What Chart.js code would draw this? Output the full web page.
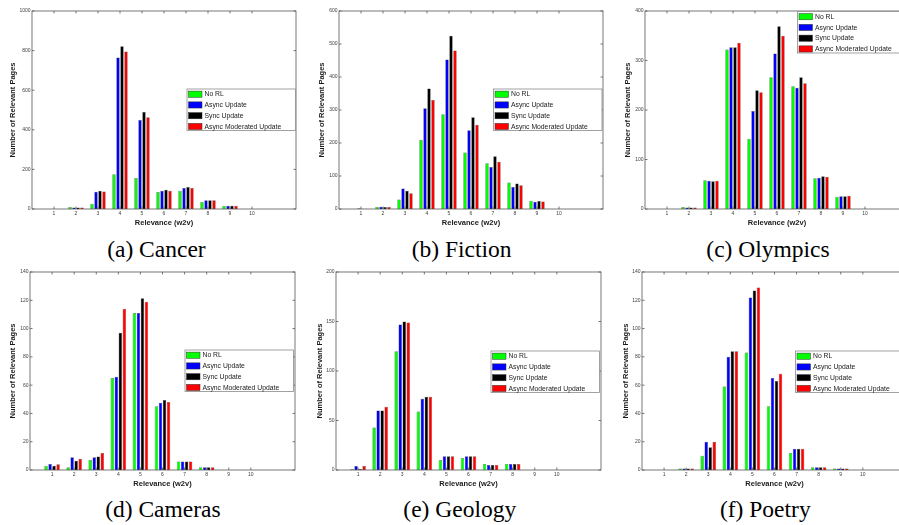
<!DOCTYPE html>
<html>
<head>
<meta charset="utf-8">
<script src="https://cdn.jsdelivr.net/npm/chart.js@4.4.1/dist/chart.umd.min.js"></script>
<style>
  html, body { margin: 0; padding: 0; background: #ffffff; }
  body { width: 899px; height: 525px; overflow: hidden; position: relative; }
  canvas { position: absolute; }
  .cap { position: absolute; width: 240px; text-align: center; white-space: nowrap;
         font-family: "Liberation Serif", "Tinos", "Times New Roman", Times, "DejaVu Serif", "Noto Serif", serif;
         font-size: 23.5px; line-height: 23.5px; color: #000; }
</style>
</head>
<body>
<script>
// ---------------- data ----------------
const relevance = [1, 2, 3, 4, 5, 6, 7, 8, 9, 10];
const xTickLabels = ['1', '2', '3', '4', '5', '6', '7', '8', '9', '10'];
const seriesNames = ['No RL', 'Async Update', 'Sync Update', 'Async Moderated Update'];
const topics = ['Cancer', 'Fiction', 'Olympics', 'Cameras', 'Geology', 'Poetry'];
const captionLetters = ['a', 'b', 'c', 'd', 'e', 'f'];

// each topic: [No RL, Async Update, Sync Update, Async Moderated Update]
const cancer = [
  [0, 10, 27, 176, 156, 86, 92, 37, 17, 0],
  [0, 7, 87, 765, 450, 92, 106, 44, 17, 0],
  [0, 8, 92, 822, 490, 97, 111, 44, 17, 0],
  [0, 7, 89, 795, 463, 92, 106, 44, 17, 0]
];
const fiction = [
  [1, 6, 29, 209, 287, 171, 139, 80, 25, 0],
  [2, 7, 62, 305, 453, 239, 127, 67, 22, 0],
  [1, 6, 55, 365, 525, 278, 160, 77, 24, 0],
  [1, 6, 48, 330, 480, 255, 143, 72, 23, 0]
];
const olympics = [
  [0, 4, 58, 322, 142, 266, 248, 62, 25, 0],
  [0, 3, 57, 327, 198, 314, 245, 63, 26, 0],
  [0, 3, 56, 327, 240, 369, 266, 66, 26, 0],
  [0, 3, 57, 336, 236, 350, 254, 65, 27, 0]
];
const cameras = [
  [3, 2, 7, 65, 111, 45, 6, 2, 0, 0],
  [4.2, 9, 9, 66, 111, 47.5, 6, 2, 0, 0],
  [3, 6.5, 9.5, 97, 121.5, 49.5, 6, 2, 0, 0],
  [4, 8, 12, 114, 119, 48, 6, 2, 0, 0]
];
const geology = [
  [1, 43, 120, 59, 10, 12, 6, 6, 0, 0],
  [4, 60, 147, 72, 14, 14, 5, 6, 0, 0],
  [1, 60, 150, 74, 14, 14, 5, 6, 0, 0],
  [4, 64, 149, 74, 14, 14, 5, 6, 0, 0]
];
const poetry = [
  [0, 1, 10, 59, 83, 45, 12, 2, 1, 0],
  [0, 1, 20, 80, 122, 65, 15, 2, 1, 0],
  [0, 1, 16, 84, 127, 63, 15, 2, 1, 0],
  [0, 1, 20, 84, 129, 68, 15, 2, 1, 0]
];
const topicValues = [cancer, fiction, olympics, cameras, geology, poetry];
const yMaxima = [1000, 600, 400, 140, 200, 140];
const ySteps = [200, 100, 100, 20, 50, 20];

// ---------------- styles & layout ----------------
const seriesColors = ['#00ff00', '#0000ff', '#000000', '#ff0000'];
const SANS = '"Liberation Sans", Arial, Helvetica, sans-serif';
// plot-area boxes in page pixels
const plotBoxes = [
  { L: 32,  T: 11,  R: 296, B: 209, titleOff: 19,   legendTop: 78,  legendInset: 0.5 },
  { L: 339, T: 11,  R: 603, B: 209, titleOff: 16.7, legendTop: 78,  legendInset: 1 },
  { L: 645, T: 11,  R: 909, B: 209, titleOff: 16.7, legendTop: 0.5, legendInset: 3 },
  { L: 30,  T: 272, R: 295, B: 470, titleOff: 16.7, legendTop: 78,  legendInset: 1.5 },
  { L: 336, T: 272, R: 601, B: 470, titleOff: 16.2, legendTop: 79,  legendInset: 1.5 },
  { L: 642, T: 272, R: 907, B: 470, titleOff: 16.3, legendTop: 79,  legendInset: 3 }
];
const captionPos = [
  { cx: 156.4, base: 257.3 }, { cx: 461.6, base: 257.3 }, { cx: 768, base: 257.3 },
  { cx: 162.9, base: 517.3 }, { cx: 459.8, base: 517.3 }, { cx: 765.3, base: 517.3 }
];
const Y_AXIS_W = 32, X_AXIS_H = 20, PAD_TOP = 6, PAD_RIGHT = 4;

// frame with inward tick marks (MATLAB box style)
const framePlugin = {
  id: 'frame',
  afterDatasetsDraw(chart) {
    const { ctx, chartArea: a, scales: { x, y } } = chart;
    ctx.save();
    ctx.strokeStyle = '#555555';
    ctx.lineWidth = 0.8;
    ctx.strokeRect(a.left, a.top, a.right - a.left, a.bottom - a.top);
    ctx.beginPath();
    const tl = 2.5;
    x.ticks.forEach(t => {
      const px = x.getPixelForValue(t.value);
      ctx.moveTo(px, a.bottom); ctx.lineTo(px, a.bottom - tl);
      ctx.moveTo(px, a.top); ctx.lineTo(px, a.top + tl);
    });
    y.ticks.forEach(t => {
      const py = y.getPixelForValue(t.value);
      ctx.moveTo(a.left, py); ctx.lineTo(a.left + tl, py);
      ctx.moveTo(a.right, py); ctx.lineTo(a.right - tl, py);
    });
    ctx.stroke();
    ctx.restore();
  }
};

// boxed legend inside the plot area
const boxLegendPlugin = {
  id: 'boxLegend',
  afterDraw(chart, args, opts) {
    const { ctx, chartArea } = chart;
    const w = 108.5, h = 41.5;
    const x0 = chartArea.right - opts.inset - w;
    const y0 = chartArea.top + opts.top;
    ctx.save();
    ctx.fillStyle = '#ffffff';
    ctx.fillRect(x0, y0, w, h);
    ctx.strokeStyle = '#8a8a8a';
    ctx.lineWidth = 0.8;
    ctx.strokeRect(x0, y0, w, h);
    ctx.font = '6.8px ' + SANS;
    ctx.textBaseline = 'middle';
    ctx.textAlign = 'left';
    chart.data.datasets.forEach((ds, i) => {
      const cy = y0 + 5.2 + i * 10.75;
      ctx.fillStyle = ds.backgroundColor;
      ctx.fillRect(x0 + 1.5, cy - 3.1, 13.5, 6.2);
      ctx.strokeStyle = '#333333';
      ctx.lineWidth = 0.5;
      ctx.strokeRect(x0 + 1.5, cy - 3.1, 13.5, 6.2);
      ctx.fillStyle = '#1a1a1a';
      ctx.fillText(ds.label, x0 + 17.5, cy + 0.3);
    });
    ctx.restore();
  }
};

topics.forEach((topic, p) => {
  const box = plotBoxes[p];
  const canvas = document.createElement('canvas');
  const cw = Y_AXIS_W + (box.R - box.L) + PAD_RIGHT;
  const ch = PAD_TOP + (box.B - box.T) + X_AXIS_H;
  canvas.width = cw; canvas.height = ch;
  canvas.style.width = cw + 'px'; canvas.style.height = ch + 'px';
  canvas.style.left = (box.L - Y_AXIS_W) + 'px';
  canvas.style.top = (box.T - PAD_TOP) + 'px';
  document.body.appendChild(canvas);

  const values = topicValues[p];
  new Chart(canvas, {
    type: 'bar',
    data: {
      datasets: seriesNames.map((name, s) => ({
        label: name,
        data: relevance.map((r, i) => ({ x: r, y: values[s][i] })),
        backgroundColor: seriesColors[s],
        borderColor: 'rgba(0,0,0,0.7)',
        borderWidth: 0.5,
        categoryPercentage: 0.727,
        barPercentage: 0.86
      }))
    },
    options: {
      responsive: false,
      animation: false,
      events: [],
      layout: { padding: { left: 0, top: PAD_TOP, right: PAD_RIGHT, bottom: 0 } },
      scales: {
        x: {
          type: 'linear',
          min: 0, max: 12,
          offset: false,
          grid: { display: false, drawTicks: false, offset: false },
          border: { display: false },
          afterBuildTicks: s => { s.ticks = relevance.map(v => ({ value: v })); },
          afterFit: s => { s.height = X_AXIS_H; },
          ticks: {
            autoSkip: false, maxRotation: 0, padding: 2,
            font: { size: 5, family: SANS }, color: '#404040',
            callback: v => xTickLabels[relevance.indexOf(v)]
          },
          title: {
            display: true, text: 'Relevance (w2v)',
            font: { size: 7.5, family: SANS, weight: 'bold' }, color: '#1a1a1a',
            padding: { top: 0, bottom: 1.9 }
          }
        },
        y: {
          min: 0, max: yMaxima[p],
          grid: { display: false, drawTicks: false },
          border: { display: false },
          afterFit: s => { s.width = Y_AXIS_W; },
          ticks: {
            stepSize: ySteps[p], padding: 1.5,
            font: { size: 5, family: SANS }, color: '#404040',
            callback: v => String(v)
          },
          title: {
            display: true, text: 'Number of Relevant Pages',
            font: { size: 7.5, family: SANS, weight: 'bold' }, color: '#1a1a1a',
            padding: { top: Y_AXIS_W - box.titleOff - 4.5, bottom: 0 }
          }
        }
      },
      plugins: {
        legend: { display: false },
        tooltip: { enabled: false },
        boxLegend: { top: box.legendTop, inset: box.legendInset }
      }
    },
    plugins: [framePlugin, boxLegendPlugin]
  });

  const cap = document.createElement('div');
  cap.className = 'cap';
  cap.textContent = '(' + captionLetters[p] + ') ' + topic;
  cap.style.left = (captionPos[p].cx - 120) + 'px';
  cap.style.top = (captionPos[p].base - 19.7) + 'px';
  document.body.appendChild(cap);
});
</script>
</body>
</html>
